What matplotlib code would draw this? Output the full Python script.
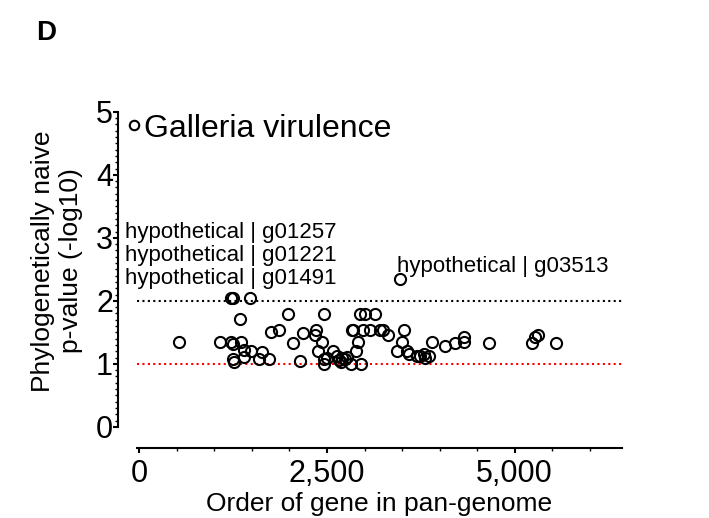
import matplotlib
matplotlib.use("Agg")
import matplotlib.pyplot as plt
from matplotlib.ticker import MultipleLocator, FuncFormatter

plt.rcParams['font.family'] = ['Liberation Sans', 'DejaVu Sans']

# gene order in pan-genome vs -log10(p)
gene_order = [521, 1070, 1226, 1248, 1480, 1341, 1226, 1248, 1359, 1250, 1257,
              1390, 1484, 1627, 1390, 1591, 1725, 1751, 1858, 1983, 2041,
              2464, 2184, 2353, 2340, 2429, 2139, 2375, 2464, 2464, 2496,
              2585, 2630, 2665, 2700, 2740, 2690, 2763, 2821, 2884, 2919,
              2955, 2941, 3008, 3142, 2830, 2852, 2986, 3075, 3209, 3253,
              3307, 3520, 3498, 3432, 3565, 3587, 3699, 3476,
              3743, 3788, 3855, 3810, 3900, 4069, 4203, 4323, 4323, 4666,
              5227, 5267, 5312, 5548]
neg_log_p = [1.34, 1.34, 2.05, 2.05, 2.05, 1.71, 1.35, 1.31, 1.35, 1.08, 1.03,
             1.11, 1.21, 1.19, 1.22, 1.07, 1.08, 1.51, 1.54, 1.79, 1.33,
             1.79, 1.49, 1.54, 1.46, 1.34, 1.04, 1.20, 1.07, 1.00, 1.10,
             1.21, 1.12, 1.06, 1.10, 1.08, 1.03, 1.11, 1.00, 1.20, 1.35,
             1.00, 1.79, 1.79, 1.79, 1.54, 1.54, 1.54, 1.54, 1.54, 1.54,
             1.45, 1.54, 1.35, 1.20, 1.20, 1.15, 1.12, 2.34,
             1.12, 1.15, 1.12, 1.09, 1.34, 1.29, 1.33, 1.42, 1.35, 1.33,
             1.33, 1.43, 1.45, 1.33]

hit_labels = ["hypothetical | g01257", "hypothetical | g01221", "hypothetical | g01491"]
hit_label_y = [3.0, 2.63, 2.26]
side_label = "hypothetical | g03513"
thresholds = [2, 1]
threshold_colors = ["black", "red"]

fig = plt.figure(figsize=(7.09, 5.18), dpi=100)
ax = fig.add_axes([0.193, 0.176, 0.684, 0.608])

ax.plot(gene_order, neg_log_p, 'o', mfc='none', mec='black', ms=8, mew=1.5,
        linestyle='none', label='Galleria virulence', clip_on=False)

for t, c in zip(thresholds, threshold_colors):
    ax.axhline(t, color=c, linestyle=(0, (1, 1.6)), linewidth=1.5, zorder=0)

for lab, yy in zip(hit_labels, hit_label_y):
    ax.text(-190, yy, lab, fontsize=16, va='baseline', ha='left')
ax.text(3436, 2.46, side_label, fontsize=16, va='baseline', ha='left')

ax.set_xlim(-35, 6430)
ax.set_ylim(0, 5)
ax.spines['top'].set_visible(False)
ax.spines['right'].set_visible(False)
ax.spines['left'].set_position(('outward', 13.7))
ax.spines['bottom'].set_position(('outward', 15))
for s in ['left', 'bottom']:
    ax.spines[s].set_linewidth(1.5)

ax.xaxis.set_major_locator(MultipleLocator(2500))
ax.xaxis.set_minor_locator(MultipleLocator(500))
ax.yaxis.set_major_locator(MultipleLocator(1))
ax.yaxis.set_minor_locator(MultipleLocator(0.1))
ax.xaxis.set_major_formatter(FuncFormatter(lambda v, p: f"{int(v):,}"))
ax.tick_params(axis='both', which='major', length=3.5, width=1.5, labelsize=22)
ax.tick_params(axis='both', which='minor', length=2, width=1)
ax.tick_params(axis='x', which='major', pad=5)
ax.tick_params(axis='y', which='major', pad=0)

ax.set_xlabel("Order of gene in pan-genome", fontsize=19, labelpad=2)
ax.set_ylabel("Phylogenetically naive\np-value (-log10)", fontsize=19)
ax.yaxis.set_label_coords(-0.112, 0.527)

leg = ax.legend(loc='upper left', bbox_to_anchor=(-0.045, 1.035), frameon=False,
                fontsize=23, handlelength=0.4, handletextpad=0.1, markerscale=0.85,
                borderaxespad=0)

fig.text(0.051, 0.923, "D", fontsize=20, fontweight='bold')

fig.savefig("out.png", dpi=100)
